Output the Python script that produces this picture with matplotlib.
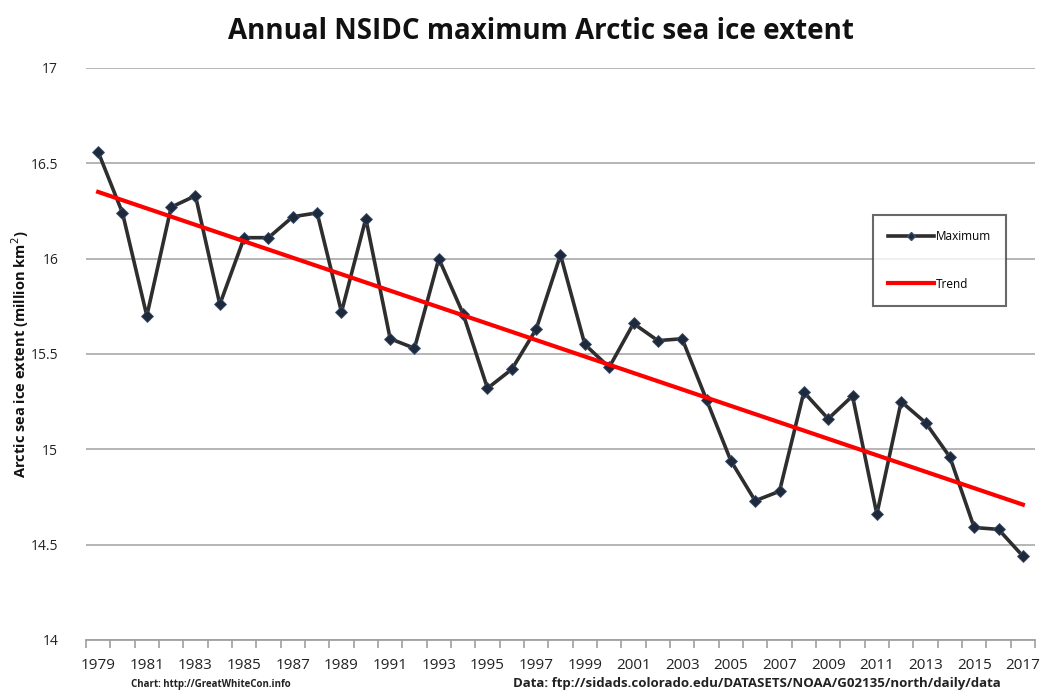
import matplotlib
matplotlib.use("Agg")
import matplotlib.pyplot as plt
from matplotlib.lines import Line2D

years = list(range(1979, 2018))
maximum = [16.56, 16.24, 15.70, 16.27, 16.33, 15.76, 16.11, 16.11, 16.22, 16.24,
           15.72, 16.21, 15.58, 15.53, 16.00, 15.71, 15.32, 15.42, 15.63, 16.02,
           15.55, 15.43, 15.66, 15.57, 15.58, 15.26, 14.94, 14.73, 14.78, 15.30,
           15.16, 15.28, 14.66, 15.25, 15.14, 14.96, 14.59, 14.58, 14.44]
trend_years = [1979, 2017]
trend_values = [16.35, 14.71]
yticks = [14, 14.5, 15, 15.5, 16, 16.5, 17]
ytick_labels = ["14", "14.5", "15", "15.5", "16", "16.5", "17"]
xtick_years = list(range(1979, 2018, 2))

plt.rcParams['font.family'] = ['Open Sans', 'DejaVu Sans']

fig = plt.figure(figsize=(10.46, 6.96), dpi=100)
ax = fig.add_axes([0.0822, 0.0805, 0.9073, 0.8218])

ax.set_xlim(1978.5, 2017.5)
ax.set_ylim(14, 17)
ax.set_yticks(yticks)
ax.set_yticklabels(ytick_labels)
ax.yaxis.grid(True, color="#b0b0b0", linewidth=1.3)
ax.set_axisbelow(True)
for s in ["left", "right", "top"]:
    ax.spines[s].set_visible(False)
ax.spines["bottom"].set_color("#a0a0a0")
ax.spines["bottom"].set_linewidth(1.3)
ax.tick_params(axis="y", length=0, labelsize=10, pad=20, labelcolor="#222222")
ax.set_xticks(xtick_years)
ax.set_xticklabels([str(y) for y in xtick_years])
ax.tick_params(axis="x", length=0, labelsize=11, pad=13, labelcolor="#222222")
ax.set_xticks([y + 0.5 for y in range(1978, 2018)], minor=True)
ax.tick_params(axis="x", which="minor", length=6, color="#a0a0a0", width=1.2, direction="out")

ax.plot(years, maximum, color="#2e2e2e", linewidth=2.6, marker="D", markersize=6.5,
        markerfacecolor="#1e2a3c", markeredgecolor="#3a5070", markeredgewidth=0.6, zorder=3)
ax.plot(trend_years, trend_values, color="#ff0000", linewidth=3, zorder=4)

fig.text(20 / 1046, 1 - 354 / 696, "Arctic sea ice extent (million km$^2$)", rotation=90,
         ha="center", va="center", fontsize=10.5, fontweight="bold", color="#111111")

handles = [Line2D([0], [0], color="#2e2e2e", linewidth=2.6, marker="D", markersize=4,
                  markerfacecolor="#1e2a3c", markeredgecolor="#3a5070"),
           Line2D([0], [0], color="#ff0000", linewidth=3)]
leg = ax.legend(handles, ["Maximum", "Trend"], loc="upper left",
                bbox_to_anchor=((873 - 86) / 949, 1 - (215 - 68) / 572),
                fontsize=8.5, frameon=True, fancybox=False, edgecolor="#444444",
                labelspacing=2.9, handlelength=3.9, handletextpad=0.1,
                borderpad=1.3, borderaxespad=0)
leg.get_frame().set_linewidth(1.5)

fig.text(0.517, 0.955, "Annual NSIDC maximum Arctic sea ice extent", ha="center", va="center",
         fontsize=20, fontweight="bold", color="#111111")
fig.text(0.125, 0.008, "Chart: http://GreatWhiteCon.info", ha="left", va="bottom",
         fontsize=7, fontweight="bold", color="#222222")
fig.text(0.49, 0.008, "Data: ftp://sidads.colorado.edu/DATASETS/NOAA/G02135/north/daily/data",
         ha="left", va="bottom", fontsize=9.5, fontweight="bold", color="#222222")

fig.savefig("out.png", dpi=100)
